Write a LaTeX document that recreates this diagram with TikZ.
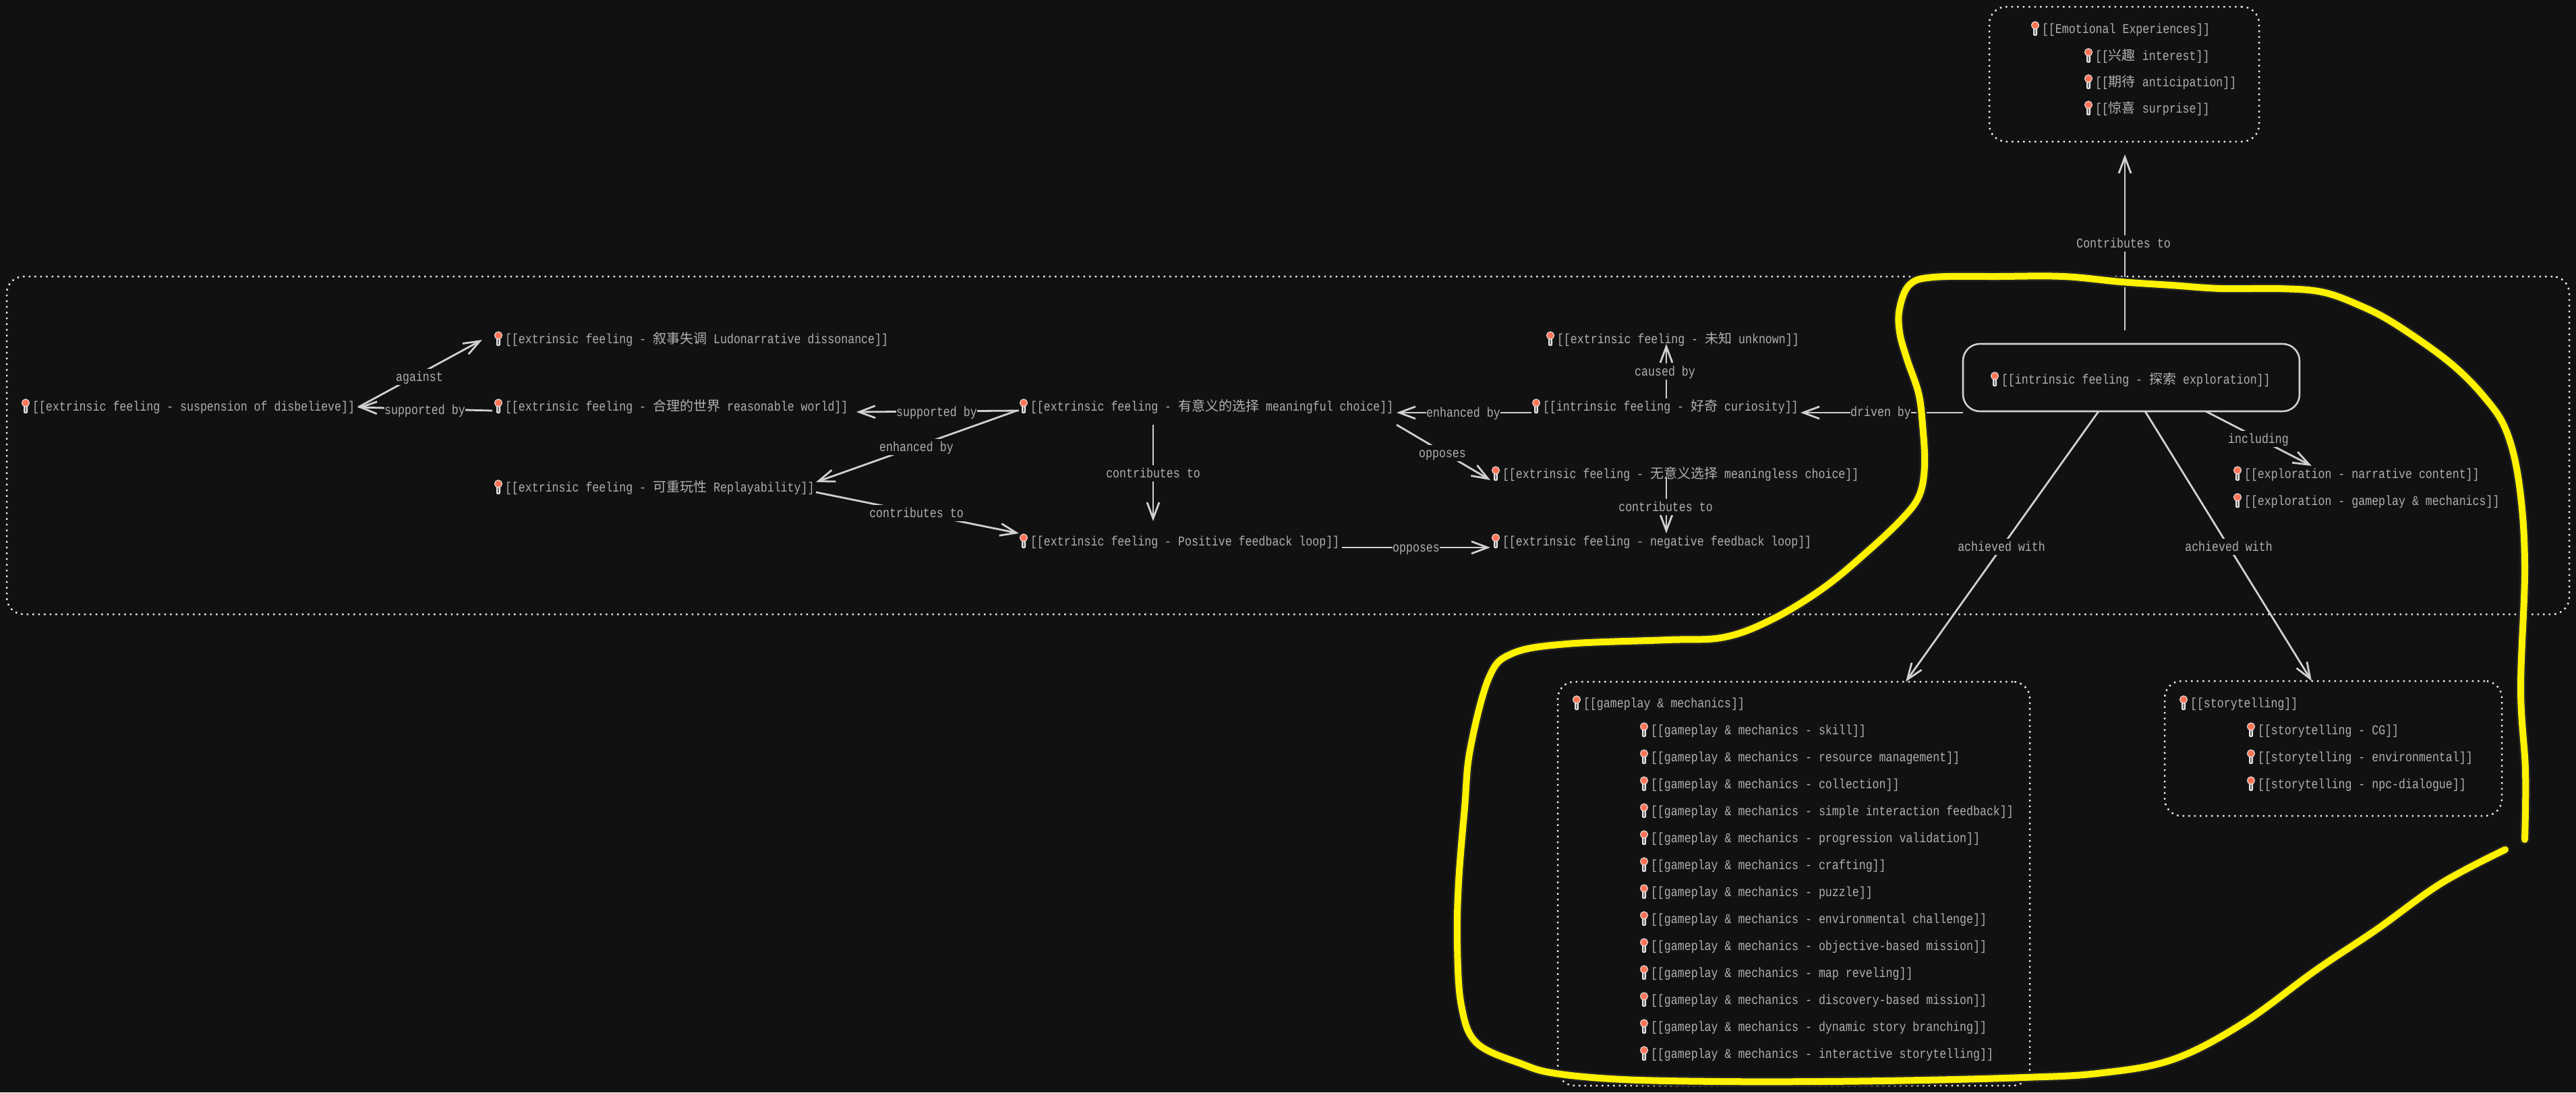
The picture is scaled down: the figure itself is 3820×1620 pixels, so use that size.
\documentclass[tikz,border=0pt]{standalone}
\usepackage{fontspec}
\usetikzlibrary{arrows.meta}
\setmainfont[FakeStretch=0.83]{Liberation Mono}
\newfontfamily\cjk{Noto Sans CJK SC}
\newcommand{\cj}[1]{{\cjk #1}}
\definecolor{bgc}{HTML}{111111}
\definecolor{txtc}{HTML}{B0B0B0}
\definecolor{linec}{HTML}{D0D0D0}
\definecolor{pinc}{HTML}{FF7558}
\tikzset{
  base/.style={font=\fontsize{20pt}{24pt}\selectfont, text=txtc, text height=16pt, text depth=3pt, inner sep=0pt, outer sep=0pt},
  entry/.style={base, anchor=west},
  elabel/.style={base, fill=bgc, inner ysep=2.5pt},
  conn/.style={draw=linec, line width=2.8pt, -{Straight Barb[length=24pt,width=18pt]}},
  dotbox/.style={draw=white!92!black, line width=2.5pt, dash pattern=on 2.5pt off 6pt, rounded corners=25pt, inner sep=0pt, outer sep=0pt},
  solidbox/.style={draw=linec, line width=2.6pt, rounded corners=25pt, inner sep=0pt, outer sep=0pt},
  scribble/.style={draw=yellow, line width=10pt, line cap=round, line join=round},
  scribbleglow/.style={draw=white!8!bgc, line width=15pt, line cap=round, line join=round},
}
\newcommand{\pinnode}[4]{%
  \fill[white!90!black, rounded corners=2pt] (#2-13,#3-3) rectangle (#2-7,#3+10);
  \fill[bgc!60!white] (#2-11,#3) rectangle (#2-9,#3+8);
  \fill[pinc, draw=white!90!black, line width=1pt] (#2-10,#3-5.5) circle[radius=5.6pt];
  \node[entry] (#1) at (#2,#3) {#4};
}
\begin{document}
\begin{tikzpicture}[x=1pt,y=-1pt]
\fill[bgc] (0,0) rectangle (3820,1620);
\useasboundingbox (0,0) rectangle (3820,1620);

% group boxes
\node[dotbox, minimum width=400pt, minimum height=200pt] (emo) at (3150,110) {};
\node[dotbox, minimum width=3800pt, minimum height=501pt] (big) at (1910,660.5) {};
\node[dotbox, minimum width=700pt, minimum height=599pt] (gm) at (2660,1310.5) {};
\node[dotbox, minimum width=500pt, minimum height=200pt] (story) at (3460,1110) {};
\node[solidbox, minimum width=499pt, minimum height=100pt] (expl) at (3160.5,560) {};

% emotional experiences
\pinnode{emoA}{3028}{43}{[[Emotional Experiences]]}
\pinnode{emoB}{3107}{83}{[[\cj{兴趣} interest]]}
\pinnode{emoC}{3107}{122}{[[\cj{期待} anticipation]]}
\pinnode{emoD}{3107}{161}{[[\cj{惊喜} surprise]]}

% central graph
\pinnode{susp}{48}{603}{[[extrinsic feeling - suspension of disbelieve]]}
\pinnode{ludo}{749}{503}{[[extrinsic feeling - \cj{叙事失调} Ludonarrative dissonance]]}
\pinnode{reason}{749}{603}{[[extrinsic feeling - \cj{合理的世界} reasonable world]]}
\pinnode{replay}{749}{723}{[[extrinsic feeling - \cj{可重玩性} Replayability]]}
\pinnode{mean}{1528}{603}{[[extrinsic feeling - \cj{有意义的选择} meaningful choice]]}
\pinnode{pos}{1528}{803}{[[extrinsic feeling - Positive feedback loop]]}
\pinnode{unk}{2309}{503}{[[extrinsic feeling - \cj{未知} unknown]]}
\pinnode{curi}{2288}{603}{[[intrinsic feeling - \cj{好奇} curiosity]]}
\pinnode{mless}{2228}{703}{[[extrinsic feeling - \cj{无意义选择} meaningless choice]]}
\pinnode{neg}{2228}{803}{[[extrinsic feeling - negative feedback loop]]}
\pinnode{explT}{2968}{563}{[[intrinsic feeling - \cj{探索} exploration]]}
\pinnode{narr}{3328}{703}{[[exploration - narrative content]]}
\pinnode{egm}{3328}{743}{[[exploration - gameplay \& mechanics]]}

% gameplay list
\pinnode{gmH}{2348}{1043}{[[gameplay \& mechanics]]}
\pinnode{gmA}{2448}{1083}{[[gameplay \& mechanics - skill]]}
\pinnode{gmB}{2448}{1123}{[[gameplay \& mechanics - resource management]]}
\pinnode{gmC}{2448}{1163}{[[gameplay \& mechanics - collection]]}
\pinnode{gmD}{2448}{1203}{[[gameplay \& mechanics - simple interaction feedback]]}
\pinnode{gmE}{2448}{1243}{[[gameplay \& mechanics - progression validation]]}
\pinnode{gmF}{2448}{1283}{[[gameplay \& mechanics - crafting]]}
\pinnode{gmG}{2448}{1323}{[[gameplay \& mechanics - puzzle]]}
\pinnode{gmI}{2448}{1363}{[[gameplay \& mechanics - environmental challenge]]}
\pinnode{gmJ}{2448}{1403}{[[gameplay \& mechanics - objective-based mission]]}
\pinnode{gmK}{2448}{1443}{[[gameplay \& mechanics - map reveling]]}
\pinnode{gmL}{2448}{1483}{[[gameplay \& mechanics - discovery-based mission]]}
\pinnode{gmM}{2448}{1523}{[[gameplay \& mechanics - dynamic story branching]]}
\pinnode{gmN}{2448}{1563}{[[gameplay \& mechanics - interactive storytelling]]}

% storytelling list
\pinnode{stH}{3248}{1043}{[[storytelling]]}
\pinnode{stA}{3348}{1083}{[[storytelling - CG]]}
\pinnode{stB}{3348}{1123}{[[storytelling - environmental]]}
\pinnode{stC}{3348}{1163}{[[storytelling - npc-dialogue]]}

% connectors
\draw[conn] ([shift={(483,1)}]susp.west) -- ([shift={(-34,1)}]ludo.west);
\draw[conn] ([shift={(-19,6)}]reason.west) -- ([shift={(483,1)}]susp.west);
\draw[conn] ([shift={(-17,6)}]mean.west) -- ([shift={(521,8)}]reason.west);
\draw[conn] ([shift={(-20,6)}]mean.west) -- ([shift={(461,-8)}]replay.west);
\draw[conn] ([shift={(461,7)}]replay.west) -- ([shift={(-17,-12)}]pos.west);
\draw[conn] ([shift={(182,27)}]mean.west) -- ([shift={(182,-30)}]pos.west);
\draw[conn] ([shift={(462,9)}]pos.west) -- ([shift={(-18,9)}]neg.west);
\draw[conn] ([shift={(-17,9)}]curi.west) -- ([shift={(543,9)}]mean.west);
\draw[conn] ([shift={(543,27)}]mean.west) -- ([shift={(-18,9)}]mless.west);
\draw[conn] ([shift={(183,-12)}]curi.west) -- ([shift={(162,7)}]unk.west);
\draw[conn] ([shift={(243,5)}]mless.west) -- ([shift={(243,-12)}]neg.west);
\draw[conn] ([shift={(0,2)}]expl.south west) -- ([shift={(382,9)}]curi.west);
\draw[conn] ([shift={(-9.5,-20)}]expl.north) -- ([shift={(1,19)}]emo.south);
\draw[conn] ([shift={(360,0)}]expl.south west) -- ([shift={(100,-12)}]narr.west);
\draw[conn] ([shift={(201,0)}]expl.south west) -- ([shift={(166,0)}]gm.north);
\draw[conn] ([shift={(270,0)}]expl.south west) -- ([shift={(-32,0)}]story.north);

% connector labels
\node[elabel] (lContrib) at (3149,361) {Contributes to};
\node[elabel] (lAgainst) at (622,559) {against};
\node[elabel] (lSup) at (630,608) {supported by};
\node[elabel] (lSupB) at (1389,611) {supported by};
\node[elabel] (lEnh) at (1359,663) {enhanced by};
\node[elabel] (lConA) at (1359,761) {contributes to};
\node[elabel] (lConB) at (1710,702) {contributes to};
\node[elabel] (lOpA) at (2100,812) {opposes};
\node[elabel] (lEnhB) at (2170,612) {enhanced by};
\node[elabel] (lOpB) at (2139,672) {opposes};
\node[elabel] (lCaus) at (2469,551) {caused by};
\node[elabel] (lConC) at (2470,752) {contributes to};
\node[elabel] (lDrv) at (2789,611) {driven by};
\node[elabel] (lInc) at (3349,651) {including};
\node[elabel] (lAchA) at (2968,811) {achieved with};
\node[elabel] (lAchB) at (3305,811) {achieved with};

% yellow hand-drawn annotation
\def\scribblepts{(3744,1245) (3745,1143) (3738,1021) (3744,840) (3736,720) (3717,640) (3685,590) (3632,537) (3551,480) (3497,452) (3443,433) (3380,428) (3294,428) (3220,423) (3145,418) (3060,410) (2963,410) (2868,411) (2832,422) (2817,457) (2817,493) (2828,533) (2845,583) (2851,630) (2854,690) (2846,735) (2820,770) (2768,819) (2704,872) (2629,918) (2557,945) (2473,949) (2323,955) (2243,969) (2208,1005) (2180,1112) (2172,1197) (2163,1308) (2161,1400) (2167,1491) (2190,1547) (2257,1578) (2307,1592) (2407,1601) (2552,1604) (2700,1604) (2850,1602) (3000,1598) (3110,1592) (3220,1572) (3324,1519) (3434,1439) (3525,1378) (3620,1310) (3715,1260)}
\draw[scribbleglow] plot[smooth, tension=0.6] coordinates {\scribblepts};
\draw[scribble] plot[smooth, tension=0.6] coordinates {\scribblepts};
\end{tikzpicture}
\end{document}
